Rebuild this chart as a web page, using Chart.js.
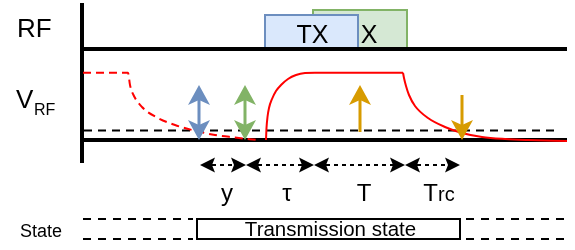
<!DOCTYPE html>
<html>
<head>
<meta charset="utf-8">
<script src="https://cdn.jsdelivr.net/npm/chart.js@4.4.1/dist/chart.umd.min.js"></script>
<style>
  html, body { margin: 0; padding: 0; background: #fff; }
  #chart { display: block; }
</style>
</head>
<body>
<canvas id="chart" width="575" height="250"></canvas>
<script>
// diagram units : x = time from the left edge, y = level from the top (y axis is reversed)
const axisStart = 82
const axisEnd = 567
const rfLevel = 49
const vHigh = 72.7
const vLow = 140
const vThreshold = 130.5

// RF activity windows (TX in front, RX behind)
const txWindow = [265, 358]
const rxWindow = [313, 407]
const rfBoxTop = [15, 10]

// phases under the timeline
const phaseEdges = [200, 246, 314, 405, 460]
const phaseNames = ["y", "τ", "T", "Trc"]

// state row
const stateWindow = [197, 460]
const stateLevels = [219, 239]

// V_RF before the window (dashed)
const prevX = [83, 128, 130, 133, 142, 158, 175, 192, 215, 235, 257]
const prevY = [vHigh, vHigh, 85, 94, 107, 118, 125, 130, 135, 137.5, 140]
// V_RF rise
const riseX = [266, 266.5, 267.5, 269, 272, 276, 281, 288, 296, 305, 315, 403]
const riseY = [140, 128, 117, 108, 99, 91, 85, 79, 75, 73, vHigh, vHigh]
// V_RF fall (RC discharge)
const fallX = [403, 404, 406, 409, 415, 428, 445, 462, 482, 505, 528, 567]
const fallY = [vHigh, 78, 86, 95, 106, 118, 127, 133, 137, 139, 140, 141]

// vertical markers : x, direction
const markerX = [199, 245, 360, 462]
const markerDir = ["both", "both", "up", "down"]
const markerTop = 85

const BLUE = "#6c8ebf"
const GREEN = "#82b366"
const ORANGE = "#d79b00"
const RED = "#ff0000"
const markerColors = [BLUE, GREEN, ORANGE, ORANGE]
const FONT = "'Liberation Sans', Arial, Helvetica, sans-serif"

const phaseRow = 165
const headLen = 15

const pts = (xs, ys) => xs.map((x, i) => ({ x: x, y: ys[i] }))
const seg = (x0, y0, x1, y1) => [{ x: x0, y: y0 }, { x: x1, y: y1 }]

function lineSet(data, color, width, dash, curve) {
  return {
    data: data,
    borderColor: color,
    borderWidth: width,
    borderDash: dash || [],
    pointRadius: 0,
    fill: false,
    cubicInterpolationMode: curve ? "monotone" : "default",
    tension: 0,
  }
}

const datasets = []

// marker shafts (on top)
markerX.forEach((x, i) => {
  datasets.push(lineSet(seg(x, markerTop + 10, x, vLow - 8), markerColors[i], 3))
})

// phase dimension lines
for (let i = 0; i < phaseNames.length; i++) {
  const a = phaseEdges[i] + headLen - 3
  const b = phaseEdges[i + 1] - headLen + 3
  if (b > a) datasets.push(lineSet(seg(a, phaseRow, b, phaseRow), "#000", 2, [4, 4]))
}

// V_RF curves
datasets.push(lineSet(pts(riseX, riseY), RED, 2, null, true))
datasets.push(lineSet(pts(fallX, fallY), RED, 2, null, true))
datasets.push(lineSet(pts(prevX, prevY), RED, 2, [8, 5], true))

// threshold
datasets.push(lineSet(seg(axisStart + 2, vThreshold, 560, vThreshold), "#000", 2, [8, 6]))

// baselines and axis
datasets.push(lineSet(seg(axisStart, rfLevel, axisEnd, rfLevel), "#000", 4))
datasets.push(lineSet(seg(axisStart, vLow, axisEnd, vLow), "#000", 4))
datasets.push(lineSet(seg(axisStart, 3, axisStart, 163), "#000", 4))

// state row dashes outside the transmission window
stateLevels.forEach(lv => {
  datasets.push(lineSet(seg(axisStart + 1, lv, stateWindow[0] - 4, lv), "#000", 2, [8, 7]))
  datasets.push(lineSet(seg(stateWindow[1] + 6, lv, 565, lv), "#000", 2, [8, 7]))
})

function arrowHead(ctx, tx, ty, dx, dy, len, half, notch, color) {
  const px = -dy, py = dx
  ctx.beginPath()
  ctx.moveTo(tx, ty)
  ctx.lineTo(tx - dx * len + px * half, ty - dy * len + py * half)
  ctx.lineTo(tx - dx * (len - notch), ty - dy * (len - notch))
  ctx.lineTo(tx - dx * len - px * half, ty - dy * len - py * half)
  ctx.closePath()
  ctx.fillStyle = color
  ctx.fill()
}

const diagramPlugin = {
  id: "diagram",
  beforeDatasetsDraw(chart) {
    const { ctx, scales: { x, y } } = chart
    ctx.save()
    // RX box behind, TX box in front
    const boxes = [
      { w: rxWindow, top: rfBoxTop[1], fill: "#d5e8d4", stroke: GREEN, label: "RX" },
      { w: txWindow, top: rfBoxTop[0], fill: "#dae8fc", stroke: BLUE, label: "TX" },
    ]
    const txRight = x.getPixelForValue(txWindow[1]) + 2.5
    boxes.forEach(b => {
      const x0 = x.getPixelForValue(b.w[0]), x1 = x.getPixelForValue(b.w[1])
      const y0 = y.getPixelForValue(b.top), y1 = y.getPixelForValue(rfLevel)
      ctx.fillStyle = b.fill
      ctx.fillRect(x0, y0, x1 - x0, y1 - y0)
      ctx.strokeStyle = b.stroke
      ctx.lineWidth = 2
      ctx.strokeRect(x0, y0, x1 - x0, y1 - y0)
      ctx.save()
      if (b.label === "RX") {
        // the RX label is partly hidden behind the TX box
        ctx.beginPath()
        ctx.rect(txRight, y0, x1 - txRight, y1 - y0)
        ctx.clip()
      }
      ctx.fillStyle = "#000"
      ctx.font = "25px " + FONT
      ctx.textAlign = "center"
      ctx.textBaseline = "alphabetic"
      ctx.fillText(b.label, (x0 + x1) / 2 + (b.label === "RX" ? 0 : 1), y.getPixelForValue(43))
      ctx.restore()
    })
    // transmission state box
    const s0 = x.getPixelForValue(stateWindow[0]), s1 = x.getPixelForValue(stateWindow[1])
    const t0 = y.getPixelForValue(stateLevels[0]), t1 = y.getPixelForValue(stateLevels[1])
    ctx.strokeStyle = "#000"
    ctx.lineWidth = 2
    ctx.strokeRect(s0, t0, s1 - s0, t1 - t0)
    ctx.fillStyle = "#000"
    ctx.font = "20.5px " + FONT
    ctx.textAlign = "center"
    ctx.fillText("Transmission state", (s0 + s1) / 2 + 2, t1 - 3)
    ctx.restore()
  },
  afterDatasetsDraw(chart) {
    const { ctx, scales: { x, y } } = chart
    ctx.save()
    // marker heads
    markerX.forEach((mx, i) => {
      const px = x.getPixelForValue(mx)
      const top = y.getPixelForValue(markerTop), bot = y.getPixelForValue(vLow)
      const d = markerDir[i]
      if (d === "both" || d === "up") arrowHead(ctx, px, top, 0, -1, 20, 11, 5, markerColors[i])
      if (d === "both" || d === "down") arrowHead(ctx, px, bot, 0, 1, 20, 11, 5, markerColors[i])
    })
    // phase heads and labels
    const ry = y.getPixelForValue(phaseRow)
    for (let i = 0; i < phaseNames.length; i++) {
      const a = x.getPixelForValue(phaseEdges[i]), b = x.getPixelForValue(phaseEdges[i + 1])
      arrowHead(ctx, a, ry, -1, 0, headLen, 7.5, 3, "#000")
      arrowHead(ctx, b, ry, 1, 0, headLen, 7.5, 3, "#000")
    }
    ctx.fillStyle = "#000"
    ctx.textBaseline = "alphabetic"
    const labelY = y.getPixelForValue(201)
    const centers = [227, 287, 364, 438]
    phaseNames.forEach((name, i) => {
      const cx = x.getPixelForValue(centers[i])
      if (name === "Trc") {
        ctx.font = "24px " + FONT
        ctx.textAlign = "right"
        ctx.fillText("T", cx, labelY)
        ctx.font = "20px " + FONT
        ctx.textAlign = "left"
        ctx.fillText("rc", cx, labelY)
      } else {
        ctx.font = "24px " + FONT
        ctx.textAlign = "center"
        ctx.fillText(name, cx, labelY)
      }
    })
    // row titles
    ctx.textAlign = "left"
    ctx.font = "26px " + FONT
    ctx.fillText("RF", 17, 37)
    ctx.fillText("V", 16, 108)
    ctx.font = "16px " + FONT
    ctx.fillText("RF", 34, 115)
    ctx.font = "18px " + FONT
    ctx.fillText("State", 20, 237)
    ctx.restore()
  }
}

new Chart(document.getElementById("chart"), {
  type: "line",
  data: { datasets: datasets },
  options: {
    responsive: false,
    devicePixelRatio: 1,
    animation: false,
    layout: { padding: 0 },
    scales: {
      x: { type: "linear", min: 0, max: 575, display: false },
      y: { type: "linear", min: 0, max: 250, reverse: true, display: false },
    },
    plugins: {
      legend: { display: false },
      tooltip: { enabled: false },
    },
    elements: { line: { borderCapStyle: "butt" } },
  },
  plugins: [diagramPlugin],
})
</script>
</body>
</html>
